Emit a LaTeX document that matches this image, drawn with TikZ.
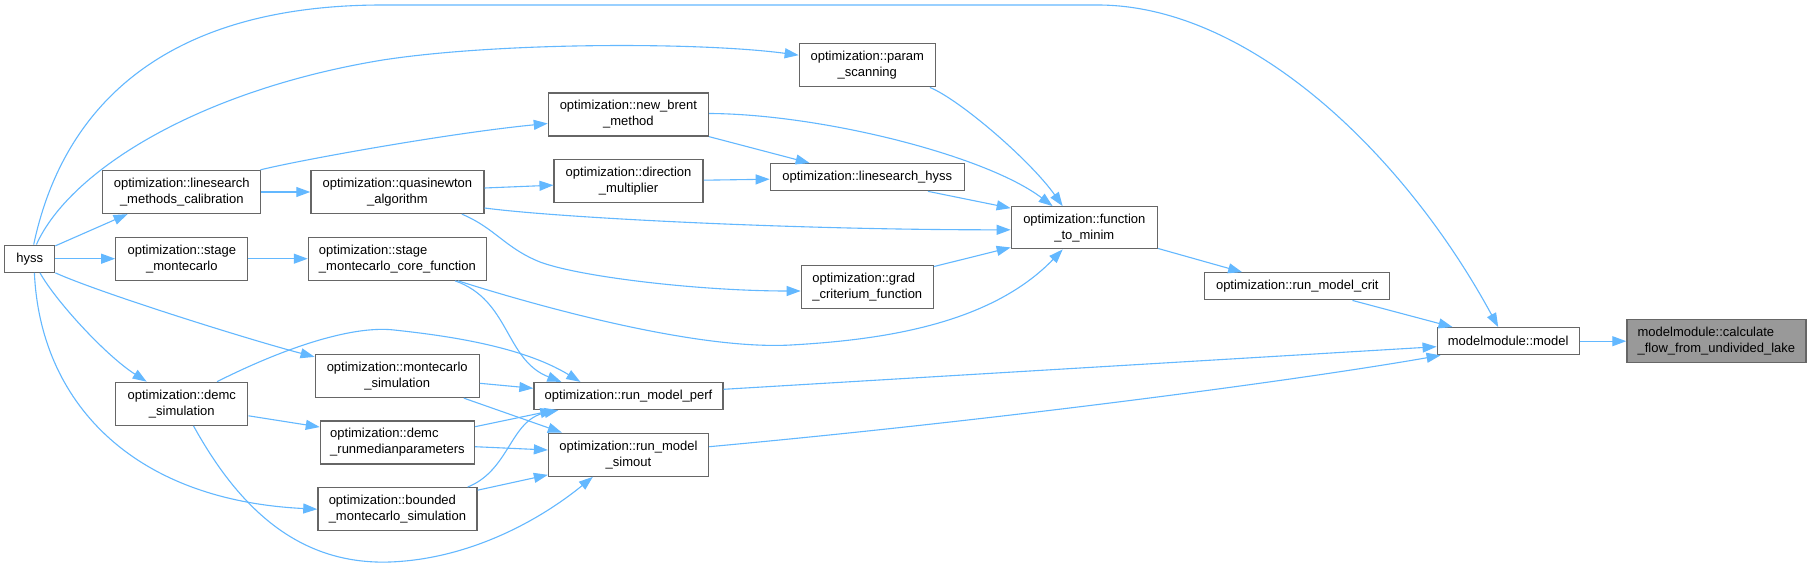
\documentclass[tikz,border=0pt]{standalone}
\usepackage{fontspec}
\setmainfont{Liberation Sans}
\usetikzlibrary{arrows.meta,calc}
\definecolor{edgeblue}{HTML}{63B8FF}
\definecolor{boxgray}{HTML}{666666}
\definecolor{hlfill}{HTML}{999999}
\begin{document}
\begin{tikzpicture}[x=1pt,y=-1pt,
  box/.style={draw=boxgray, line width=1.3pt, fill=white, inner sep=0pt, text=black,
    font=\fontsize{13}{16}\selectfont, minimum height=43pt},
  onebox/.style={box, minimum height=27pt},
  edge/.style={draw=edgeblue, line width=1.1pt, -{Triangle[length=14pt,width=10pt]}}]
\useasboundingbox[fill=white] (0,0) rectangle (1811,569);

% nodes
\node[onebox, minimum width=50pt] (hyss) at (29.7,258.7) {hyss};
\node[box, minimum width=158pt, align=center] (lsmc) at (181.8,192) {optimization::linesearch\\\_methods\_calibration};
\node[box, minimum width=132pt, align=center] (stmc) at (181.8,258.7) {optimization::stage\\\_montecarlo};
\node[box, minimum width=132pt, align=center] (demcs) at (181.8,403.8) {optimization::demc\\\_simulation};
\node[box, minimum width=173pt, align=center] (qn) at (397.4,192) {optimization::quasinewton\\\_algorithm};
\node[box, minimum width=178pt, align=left] (core) at (397.4,258.7) {optimization::stage\\\_montecarlo\_core\_function};
\node[box, minimum width=164pt, align=center] (mcs) at (397.2,376) {optimization::montecarlo\\\_simulation};
\node[box, minimum width=154pt, align=left] (rmp) at (397.4,442.5) {optimization::demc\\\_runmedianparameters};
\node[box, minimum width=159pt, align=left] (bmc) at (397.4,509.2) {optimization::bounded\\\_montecarlo\_simulation};
\node[box, minimum width=160pt, align=center] (nb) at (628.4,114.5) {optimization::new\_brent\\\_method};
\node[box, minimum width=149pt, align=center] (dm) at (628.6,181.2) {optimization::direction\\\_multiplier};
\node[onebox, minimum width=189pt] (perf) at (628.5,396) {optimization::run\_model\_perf};
\node[box, minimum width=160pt, align=center] (simout) at (628.5,454.7) {optimization::run\_model\\\_simout};
\node[box, minimum width=136pt, align=center] (ps) at (867.3,65.3) {optimization::param\\\_scanning};
\node[onebox, minimum width=194pt] (lh) at (867.3,177.2) {optimization::linesearch\_hyss};
\node[box, minimum width=132pt, align=left] (grad) at (867.3,286.7) {optimization::grad\\\_criterium\_function};
\node[box, minimum width=146pt, minimum height=42pt, align=center] (ftm) at (1084.3,227.8) {optimization::function\\\_to\_minim};
\node[onebox, minimum width=185pt] (crit) at (1297.3,286.3) {optimization::run\_model\_crit};
\node[onebox, minimum width=142pt] (model) at (1508.2,341.2) {modelmodule::model};
\node[box, minimum width=179pt, align=left, fill=hlfill] (calc) at (1716.4,341.2) {modelmodule::calculate\\\_flow\_from\_undivided\_lake};

% edges from hyss
\draw[edge] ($(hyss.north east)+(0,1.3)$) -- ($(lsmc.south west)+(25.4,0)$);
\draw[edge] (hyss.east) -- (stmc.west);
\draw[edge] ($(hyss.south)+(10.3,0)$) .. controls (55,300) and (105,355) .. ($(demcs.north west)+(31.5,0)$);
\draw[edge] (hyss.south east) .. controls (100,293) and (250,340) .. ($(mcs.north west)+(0,3)$);
\draw[edge] ($(hyss.south)+(4.7,0)$) .. controls (40,400) and (130,500) .. (bmc.west);
\draw[edge] ($(hyss.north)+(6.7,0)$) .. controls (70,170) and (200,90) .. (382.7,60)
   .. controls (500,42) and (700,42) .. ($(ps.north west)+(0,12)$);
\draw[edge] ($(hyss.north)+(4,0)$) .. controls (60,120) and (150,5) .. (382.7,5) -- (1097.5,5)
   .. controls (1250,5) and (1405,155) .. ($(model.north)+(-10,0)$);

% linesearch_methods_calibration
\draw[edge] (lsmc.east) -- (qn.west);
\draw[edge] ($(lsmc.north east)+(-1,0)$) .. controls (300,160) and (450,133) .. ($(nb.west)+(0,9)$);

% quasinewton
\draw[edge] ($(qn.east)+(0,-4)$) -- ($(dm.west)+(0,4)$);
\draw[edge] ($(qn.east)+(0,16)$) .. controls (560,218) and (800,230) .. ($(ftm.west)+(0,2)$);
\draw[edge] ($(qn.south east)+(-22.7,0)$) .. controls (495,228) and (505,248) .. (540,262)
   .. controls (580,277) and (700,291) .. ($(grad.west)+(0,4.3)$);

% direction / brent / param / linesearch_hyss / grad -> function_to_minim
\draw[edge] ($(dm.east)+(0,-1)$) -- ($(lh.west)+(0,2)$);
\draw[edge] (nb.south east) -- ($(lh.north west)+(40,0)$);
\draw[edge] ($(nb.east)+(0,-1)$) .. controls (820,114) and (985,155) .. ($(ftm.north west)+(42,0)$);
\draw[edge] ($(ps.south east)+(-6,0)$) .. controls (960,100) and (1030,160) .. ($(ftm.north west)+(52,0)$);
\draw[edge] ($(lh.south east)+(-37,0)$) -- ($(ftm.north west)+(0,2)$);
\draw[edge] ($(grad.north east)+(0,2)$) -- ($(ftm.south west)+(0,-2)$);

% stage montecarlo
\draw[edge] (stmc.east) -- (core.west);
\draw[edge] ($(core.south east)+(-29,0)$) .. controls (550,310) and (700,350) .. (791,345)
   .. controls (880,340) and (990,325) .. ($(ftm.south west)+(52,0)$);
\draw[edge] ($(core.south east)+(-32,0)$) .. controls (510,300) and (505,360) .. ($(perf.north west)+(28,0)$);

% right part
\draw[edge] ($(ftm.south east)+(0,-1)$) -- ($(crit.north west)+(38,0)$);
\draw[edge] ($(crit.south east)+(-38,0)$) -- ($(model.north west)+(16,0)$);
\draw[edge] (model.east) -- (calc.west);
\draw[edge] ($(perf.east)+(0,-6.7)$) -- ($(model.west)+(0,5.5)$);
\draw[edge] ($(simout.east)+(0,-8)$) .. controls (1000,420) and (1300,380) .. ($(model.south west)+(4,0)$);

% lower-left cluster
\draw[edge] ($(demcs.north east)+(-31.4,0)$) .. controls (280,350) and (350,325) .. (394.2,330)
   .. controls (440,335) and (520,345) .. ($(perf.north west)+(47,0)$);
\draw[edge] ($(mcs.east)+(0,7.3)$) -- ($(perf.west)+(0,-7.7)$);
\draw[edge] ($(mcs.south east)+(-16,0)$) -- ($(simout.north west)+(14,0)$);
\draw[edge] ($(demcs.east)+(0,12)$) -- ($(rmp.north west)+(0,6.7)$);
\draw[edge] ($(rmp.east)+(0,-15.8)$) -- ($(perf.south west)+(21,0)$);
\draw[edge] ($(rmp.east)+(0,4.2)$) -- ($(simout.west)+(0,-4.7)$);
\draw[edge] ($(bmc.north east)+(-9.9,0)$) .. controls (510,470) and (510,420) .. ($(perf.south west)+(25,0)$);
\draw[edge] ($(bmc.east)+(0,-19)$) -- ($(simout.south west)+(0,-2)$);
\draw[edge] ($(demcs.south west)+(78.4,0)$) .. controls (240,510) and (300,565) .. (390,562)
   .. controls (470,559) and (540,520) .. ($(simout.south west)+(45,0)$);
\end{tikzpicture}
\end{document}
